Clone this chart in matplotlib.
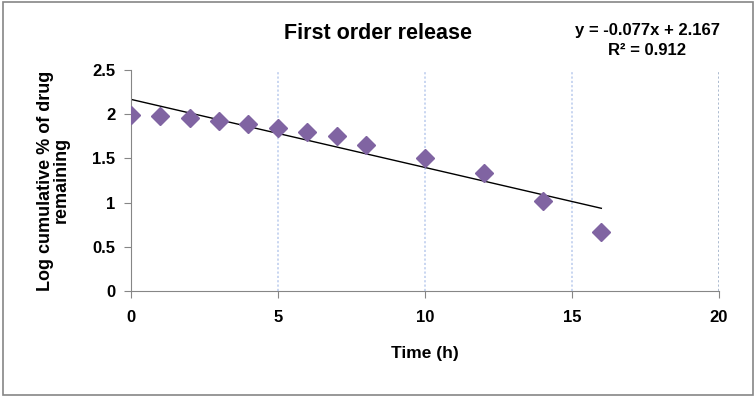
#Importing NumPy and Matplotlib
import numpy as np
import matplotlib
matplotlib.use("Agg")
import matplotlib.pyplot as plt
from matplotlib.patches import Rectangle

#Data
time_h = [0, 1, 2, 3, 4, 5, 6, 7, 8, 10, 12, 14, 16]
log_remaining = [1.99, 1.98, 1.96, 1.92, 1.89, 1.84, 1.80, 1.75, 1.65, 1.50, 1.33, 1.02, 0.67]
fit_slope = -0.077
fit_intercept = 2.167
fit_r2 = 0.912
x_ticks = [0, 5, 10, 15, 20]
y_ticks = [0, 0.5, 1, 1.5, 2, 2.5]

plt.rcParams['font.family'] = ['Liberation Sans', 'DejaVu Sans']

fig = plt.figure(figsize=(7.56, 3.97), dpi=100)
ax = fig.add_axes([0.173, 0.267, 0.778, 0.557])

#Outer chart frame
fig.patches.append(Rectangle((0.004, 0.006), 0.992, 0.988, transform=fig.transFigure,
                             fill=False, edgecolor='#868686', linewidth=1.2))

#Vertical dotted gridlines
for xv in x_ticks[1:]:
    col = '#a6b5cc' if xv == x_ticks[-1] else '#c5d3f0'
    ax.axvline(xv, color=col, linestyle=(0, (1.2, 1.2)), linewidth=1.3, zorder=0)

#Scatter points
ax.plot(time_h, log_remaining, linestyle='none', marker='D', markersize=9.5,
        color='#8064A2', markeredgecolor='#8064A2', zorder=3)

#Linear trend line
xt = np.array([time_h[0], time_h[-1]])
ax.plot(xt, fit_slope * xt + fit_intercept, color='black', linewidth=1, zorder=2)

ax.set_xlim(0, 20)
ax.set_ylim(0, 2.5)
ax.set_xticks(x_ticks)
ax.set_yticks(y_ticks)
ax.set_yticklabels(['0', '0.5', '1', '1.5', '2', '2.5'])
for s in ['top', 'right']:
    ax.spines[s].set_visible(False)
for s in ['left', 'bottom']:
    ax.spines[s].set_color('#868686')
ax.tick_params(axis='both', direction='out', length=5, color='#868686', labelsize=12)
ax.tick_params(axis='x', pad=9)
ax.tick_params(axis='y', pad=6)
for lab in ax.get_xticklabels() + ax.get_yticklabels():
    lab.set_fontweight('bold')

ax.set_xlabel('Time (h)', fontsize=12.5, fontweight='bold', labelpad=15)
ax.set_ylabel('Log cumulative % of drug\nremaining', fontsize=13, fontweight='bold',
              labelpad=16, linespacing=0.95)

fig.text(0.5, 0.915, 'First order release', ha='center', va='center',
         fontsize=15.5, fontweight='bold')
fig.text(0.856, 0.922, 'y = -0.077x + 2.167', ha='center', va='center',
         fontsize=12, fontweight='bold')
fig.text(0.856, 0.872, 'R² = %.3f' % fit_r2, ha='center', va='center',
         fontsize=12, fontweight='bold')

fig.savefig('out.png', dpi=100)
